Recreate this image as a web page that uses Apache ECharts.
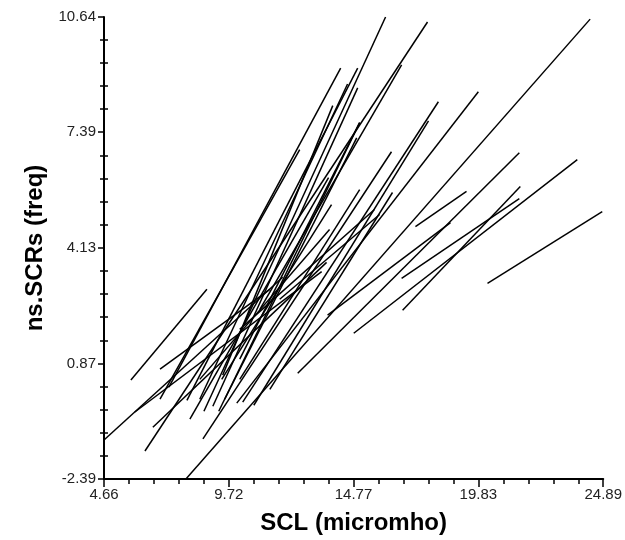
<!DOCTYPE html>
<html><head><meta charset="utf-8">
<script src="https://cdn.jsdelivr.net/npm/echarts@6/dist/echarts.min.js"></script>
<style>html,body{margin:0;padding:0;background:#fff}#c{width:625px;height:540px}</style>
</head><body><div id="c"></div>
<script>
const xTicks = [4.66, 9.72, 14.77, 19.83, 24.89];
const yTicks = [-2.39, 0.87, 4.13, 7.39, 10.64];
const xStart = [5.75, 4.66, 5.91, 6.32, 6.64, 7.29, 8.02, 7.98, 8.71, 8.67, 9.07, 9.31, 10.04, 10.28, 10.73, 9.43, 12.51, 14.78, 16.76, 20.20, 16.72, 17.28, 11.38, 6.93, 9.55, 10.16, 8.54, 13.72, 10.16, 10.97, 8.54, 6.93, 10.16, 11.78, 9.47, 8.14];
const yStart = [0.40, -1.29, -0.50, -1.60, -0.93, 0.20, -0.17, -2.39, -0.48, -1.26, -0.34, -0.48, -0.25, -0.22, -0.31, 0.42, 0.59, 1.72, 2.37, 3.13, 3.27, 4.73, 0.14, -0.14, -0.14, 0.99, -0.14, 2.23, 0.42, 2.39, 0.42, 0.71, 1.83, 2.68, 0.54, -0.70];
const xEnd = [8.83, 11.90, 13.48, 17.77, 13.68, 14.25, 14.94, 24.36, 16.07, 16.31, 14.94, 15.02, 19.83, 18.21, 17.81, 13.88, 21.49, 23.84, 21.53, 24.85, 21.49, 19.35, 16.35, 12.59, 14.90, 15.02, 14.53, 18.70, 15.02, 16.72, 13.80, 11.38, 15.62, 15.83, 13.93, 13.76];
const yEnd = [2.96, 3.30, 3.46, 10.50, 3.72, 9.20, 9.20, 10.58, 10.64, 6.84, 8.64, 7.66, 8.53, 8.25, 7.71, 5.35, 6.81, 6.62, 5.86, 5.15, 5.52, 5.72, 5.69, 6.90, 7.23, 7.66, 8.75, 4.84, 5.77, 9.29, 4.65, 2.96, 5.21, 5.07, 8.14, 6.11];

function minorOf(t) {
  const out = [];
  for (let i = 0; i < t.length - 1; i++) {
    for (let k = 1; k < 5; k++) out.push(t[i] + (t[i + 1] - t[i]) * k / 5);
  }
  return out;
}
const xMinor = minorOf(xTicks), yMinor = minorOf(yTicks);
const font = 'Liberation Sans, Arial, sans-serif';
const black = '#000';

const series = xStart.map((x, i) => ({
  type: 'line', xAxisIndex: 0, yAxisIndex: 0,
  data: [[x, yStart[i]], [xEnd[i], yEnd[i]]],
  symbol: 'none', silent: true,
  lineStyle: { color: black, width: 1.5 }
}));

const baseX = { type: 'value', min: xTicks[0], max: xTicks[xTicks.length - 1], gridIndex: 0, position: 'bottom', splitLine: { show: false } };
const baseY = { type: 'value', min: yTicks[0], max: yTicks[yTicks.length - 1], gridIndex: 0, position: 'left', splitLine: { show: false } };

const chart = echarts.init(document.getElementById('c'), null, { renderer: 'canvas' });
chart.setOption({
  animation: false,
  backgroundColor: '#fff',
  grid: { left: 104, right: 21, top: 17, bottom: 60, containLabel: false },
  xAxis: [
    Object.assign({}, baseX, {
      axisLine: { show: true, onZero: false, lineStyle: { color: black, width: 2 } },
      axisTick: { show: true, customValues: xTicks, length: 8, lineStyle: { color: black, width: 1.5 } },
      axisLabel: { show: true, customValues: xTicks, margin: 8, fontSize: 15, color: '#222', fontFamily: font },
      name: 'SCL (micromho)', nameLocation: 'middle', nameGap: 32,
      nameTextStyle: { fontSize: 24, fontWeight: 'bold', color: black, fontFamily: font }
    }),
    Object.assign({}, baseX, {
      axisLine: { show: false, onZero: false },
      axisTick: { show: true, customValues: xMinor, length: 5, lineStyle: { color: black, width: 1.5 } },
      axisLabel: { show: false }
    })
  ],
  yAxis: [
    Object.assign({}, baseY, {
      axisLine: { show: true, onZero: false, lineStyle: { color: black, width: 2 } },
      axisTick: { show: true, customValues: yTicks, length: 6, lineStyle: { color: black, width: 1.5 } },
      axisLabel: { show: true, customValues: yTicks, margin: 8, fontSize: 15, color: '#222', fontFamily: font },
      name: 'ns.SCRs (freq)', nameLocation: 'middle', nameGap: 54, nameRotate: 90,
      nameTextStyle: { fontSize: 24, fontWeight: 'bold', color: black, fontFamily: font }
    }),
    Object.assign({}, baseY, {
      axisLine: { show: false, onZero: false },
      axisTick: { show: true, customValues: yMinor, length: 4, lineStyle: { color: black, width: 1.5 } },
      axisLabel: { show: false }
    }),
    Object.assign({}, baseY, {
      axisLine: { show: false, onZero: false },
      axisTick: { show: true, inside: true, customValues: yMinor, length: 4, lineStyle: { color: black, width: 1.5 } },
      axisLabel: { show: false }
    })
  ],
  series: series
});
</script>
</body></html>
